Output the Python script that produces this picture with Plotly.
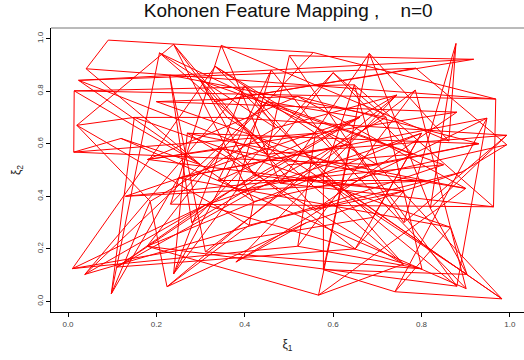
import plotly.graph_objects as go

# Kohonen map weights at n=0 (10 x 10 grid, row-major)
wx = [0.091, 0.555, 0.232, 0.347, 0.862, 0.878, 0.760, 0.501, 0.918, 0.330,
      0.041, 0.968, 0.963, 0.480, 0.682, 0.820, 0.993, 0.450, 0.024, 0.787,
      0.300, 0.014, 0.648, 0.578, 0.578, 0.903, 0.360, 0.239, 0.420, 0.993,
      0.120, 0.013, 0.700, 0.982, 0.740, 0.866, 0.150, 0.020, 0.410, 0.891,
      0.901, 0.560, 0.333, 0.620, 0.948, 0.250, 0.098, 0.186, 0.224, 0.540,
      0.786, 0.520, 0.010, 0.690, 0.880, 0.640, 0.207, 0.470, 0.744, 0.380,
      0.311, 0.801, 0.311, 0.800, 0.179, 0.567, 0.759, 0.400, 0.038, 0.600,
      0.230, 0.720, 0.111, 0.650, 0.350, 0.900, 0.270, 0.239, 0.450, 0.850,
      0.280, 0.600, 0.420, 0.760, 0.180, 0.520, 0.930, 0.380, 0.660, 0.130,
      0.500, 0.780, 0.300, 0.560, 0.880, 0.200, 0.640, 0.460, 0.340, 0.820]
wy = [0.994, 0.947, 0.370, 0.974, 0.610, 0.981, 0.300, 0.935, 0.921, 0.760,
      0.885, 0.770, 0.360, 0.450, 0.943, 0.355, 0.632, 0.560, 0.841, 0.887,
      0.520, 0.801, 0.824, 0.481, 0.121, 0.103, 0.700, 0.978, 0.380, 0.596,
      0.620, 0.568, 0.520, 0.010, 0.037, 0.282, 0.700, 0.670, 0.290, 0.492,
      0.049, 0.640, 0.894, 0.430, 0.697, 0.470, 0.029, 0.381, 0.056, 0.300,
      0.804, 0.210, 0.125, 0.320, 0.058, 0.600, 0.945, 0.660, 0.785, 0.150,
      0.189, 0.124, 0.367, 0.640, 0.210, 0.024, 0.142, 0.820, 0.103, 0.380,
      0.861, 0.700, 0.131, 0.200, 0.580, 0.430, 0.640, 0.105, 0.760, 0.520,
      0.300, 0.870, 0.480, 0.420, 0.540, 0.780, 0.600, 0.420, 0.700, 0.400,
      0.520, 0.560, 0.840, 0.350, 0.720, 0.760, 0.500, 0.880, 0.460, 0.460]
grid_n = 10
x_ticks = [0.0, 0.2, 0.4, 0.6, 0.8, 1.0]
y_ticks = [0.0, 0.2, 0.4, 0.6, 0.8, 1.0]
tick_text = ["0.0", "0.2", "0.4", "0.6", "0.8", "1.0"]

lx, ly = [], []
for i in range(grid_n):  # rows
    for j in range(grid_n):
        k = i * grid_n + j
        lx.append(wx[k]); ly.append(wy[k])
    lx.append(None); ly.append(None)
for j in range(grid_n):  # columns
    for i in range(grid_n):
        k = i * grid_n + j
        lx.append(wx[k]); ly.append(wy[k])
    lx.append(None); ly.append(None)

fig = go.Figure(go.Scatter(x=lx, y=ly, mode="lines",
                           line=dict(color="#ff0000", width=1),
                           connectgaps=False, hoverinfo="skip"))

font = "Liberation Sans, Arial, sans-serif"
fig.update_layout(
    width=524, height=360,
    margin=dict(l=51, r=0, t=28, b=48),
    paper_bgcolor="white", plot_bgcolor="white",
    showlegend=False,
    font=dict(family=font, color="#333"),
    title=dict(text="Kohonen Feature Mapping ,\u00a0\u00a0\u00a0\u00a0n=0",
               x=0.55, xanchor="center", y=0.97, yanchor="middle",
               font=dict(size=19, color="#111", family=font)),
    xaxis=dict(range=[-0.0385, 1.032], showgrid=False, zeroline=False,
               showline=True, linecolor="black", linewidth=1,
               ticks="outside", ticklen=4, tickcolor="black",
               tickvals=x_ticks, ticktext=tick_text,
               tickfont=dict(size=8, color="#444"),
               title=dict(text="ξ<sub>1</sub>", font=dict(size=12, color="#222"), standoff=12)),
    yaxis=dict(range=[-0.040, 1.040], showgrid=False, zeroline=False,
               showline=True, linecolor="black", linewidth=1,
               ticks="outside", ticklen=4, tickcolor="black",
               tickvals=y_ticks, ticktext=tick_text, tickangle=-90,
               tickfont=dict(size=8, color="#444"),
               title=dict(text="ξ<sub>2</sub>", font=dict(size=12, color="#222"), standoff=12)),
)
fig.add_shape(type="line", xref="paper", yref="paper", x0=0, x1=1, y0=1, y1=1,
              line=dict(color="#777", width=1))
fig.write_html("out.html")
